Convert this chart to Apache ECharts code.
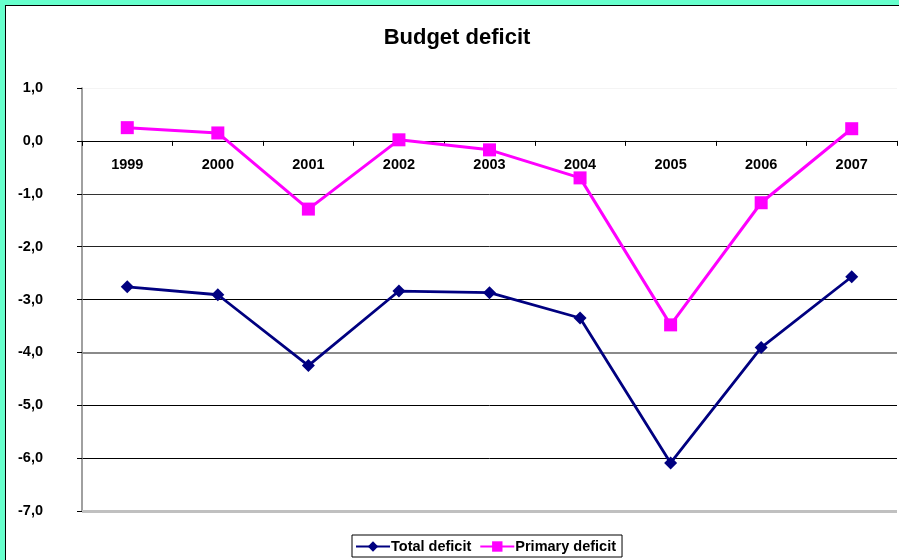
<!DOCTYPE html>
<html><head><meta charset="utf-8">
<script src="https://cdn.jsdelivr.net/npm/echarts@6/dist/echarts.min.js"></script>
<style>
html,body{margin:0;padding:0;background:#66FFCC;width:899px;height:560px;overflow:hidden;}
#chart{position:absolute;left:5px;top:5px;width:894px;height:555px;background:#fff;border-left:1px solid #000;border-top:1px solid #000;}
</style></head>
<body><div id="chart"></div>
<script>
const years = ['1999','2000','2001','2002','2003','2004','2005','2006','2007'];
const totalDeficit = [-2.76, -2.91, -4.25, -2.84, -2.87, -3.35, -6.09, -3.91, -2.57];
const primaryDeficit = [0.25, 0.15, -1.29, 0.02, -0.17, -0.70, -3.48, -1.17, 0.23];
const yMin = -7, yMax = 1, yStep = 1;

const gridH = 423;
const zeroOffset = -gridH * (0 - yMin) / (yMax - yMin);

const chart = echarts.init(document.getElementById('chart'));
const font = 'Arial, "Liberation Sans", sans-serif';
chart.setOption({
  animation: false,
  backgroundColor: '#fff',
  title: {
    text: 'Budget deficit', left: 446, top: 16, textAlign: 'center',
    textStyle: {fontFamily: font, fontWeight: 'bold', fontSize: 22, color: '#000'}
  },
  grid: {left: 76, top: 82, width: 815, height: gridH},
  legend: {
    top: 529, left: 346,
    itemWidth: 34, itemHeight: 13, itemGap: 8,
    padding: [4, 6, 3, 3],
    borderColor: '#000', borderWidth: 1,
    textStyle: {fontFamily: font, fontWeight: 'bold', fontSize: 14.5, color: '#000', padding: [0,0,0,-4]},
    data: ['Total deficit', 'Primary deficit']
  },
  xAxis: [{
    type: 'category', data: years, boundaryGap: true,
    axisLine: {onZero: true, lineStyle: {color: '#000', width: 1}},
    axisTick: {show: true, length: 5, lineStyle: {color: '#000'}},
    axisLabel: {show: false},
    z: 3
  }, {
    type: 'category', data: years, boundaryGap: true, position: 'bottom', offset: zeroOffset,
    axisLine: {show: false, onZero: false},
    axisTick: {show: false},
    axisLabel: {margin: 17, fontFamily: font, fontWeight: 'bold', fontSize: 14.5, color: '#000'}
  }],
  yAxis: {
    type: 'value', min: yMin, max: yMax, interval: yStep,
    axisLine: {show: true, lineStyle: {color: '#808080', width: 1.5}},
    axisTick: {show: true, length: 5, lineStyle: {color: '#000'}},
    axisLabel: {
      margin: 39, fontFamily: font, fontWeight: 'bold', fontSize: 14.5, color: '#000',
      formatter: v => v.toFixed(1).replace('.', ',')
    },
    splitLine: {show: true, lineStyle: {color: ['#c0c0c0','#000','#000','#808080','#000','#222','#333','#000','#f4f4f4'], width: 1}}
  },
  series: [{
    name: 'Total deficit', type: 'line', data: totalDeficit,
    symbol: 'diamond', symbolSize: 13,
    lineStyle: {color: '#000080', width: 2.8},
    itemStyle: {color: '#000080'}, z: 4,
    markLine: {
      silent: true, symbol: 'none', label: {show: false}, z: 1,
      lineStyle: {color: '#c0c0c0', width: 3, type: 'solid'},
      data: [{yAxis: yMin}, {yAxis: -4, lineStyle: {color: '#8a8a8a', width: 2}}]
    }
  }, {
    name: 'Primary deficit', type: 'line', data: primaryDeficit,
    symbol: 'rect', symbolSize: 13,
    lineStyle: {color: '#FF00FF', width: 3},
    itemStyle: {color: '#FF00FF'}, z: 4
  }]
});
</script></body></html>
